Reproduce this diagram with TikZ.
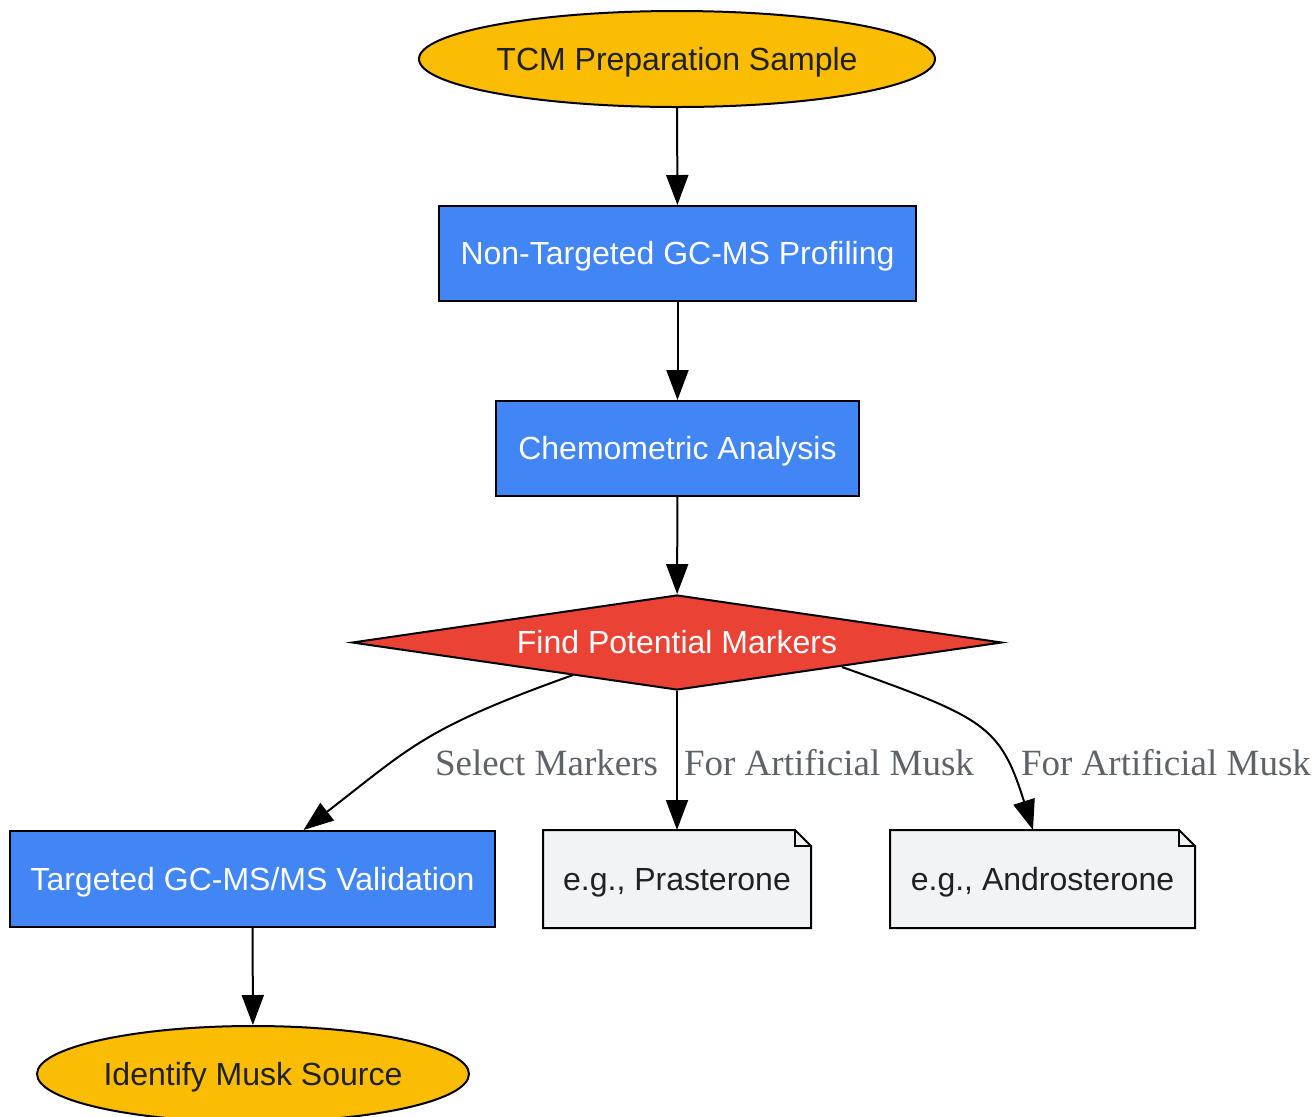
\documentclass[tikz,border=0pt]{standalone}
\usepackage{fontspec}
\setmainfont{Liberation Sans}
\newfontfamily\labelfont{Liberation Serif}
\usetikzlibrary{shapes.geometric,arrows.meta,backgrounds}
\definecolor{gyellow}{HTML}{FBBC04}
\definecolor{gblue}{HTML}{4285F4}
\definecolor{gred}{HTML}{EA4335}
\definecolor{ggray}{HTML}{F1F3F4}
\definecolor{glabel}{HTML}{5F6368}
\definecolor{gdark}{HTML}{202124}
\tikzset{
  base/.style={inner sep=0pt, line width=1pt, text height=12pt, text depth=1pt, font=\fontsize{16pt}{19pt}\selectfont},
  term/.style={base, ellipse, draw=black, fill=gyellow, text=gdark},
  procbox/.style={base, rectangle, draw=black, fill=gblue, text=white},
  decision/.style={base, diamond, aspect=6.84, draw=black, fill=gred, text=white},
  notebox/.style={base, rectangle, text=gdark},
  noteshape/.style={line width=1pt, draw=black, fill=ggray},
  edge/.style={line width=1pt, draw=black, -{Triangle[length=15pt,width=11pt]}},
  elabel/.style={text=glabel, inner sep=0pt, anchor=base, font=\labelfont\fontsize{18.5pt}{22pt}\selectfont}
}
\begin{document}
\begin{tikzpicture}[x=0.5pt, y=-0.5pt]
\useasboundingbox (0,0) rectangle (1314,1116);
\node[term, minimum width=258pt, minimum height=48pt] (tcm) at (677,59) {TCM Preparation Sample};
\node[procbox, minimum width=238.5pt, minimum height=47.5pt] (ntp) at (677.5,253.5) {Non-Targeted GC-MS Profiling};
\node[procbox, minimum width=181.5pt, minimum height=47.5pt] (chem) at (677.5,448.5) {Chemometric Analysis};
\node[decision, minimum width=325pt, minimum height=47.5pt] (find) at (677,642.5) {Find Potential Markers};
\node[procbox, minimum width=242.5pt, minimum height=48pt] (tgt) at (252.5,879) {Targeted GC-MS/MS Validation};
\node[notebox, minimum width=133pt, minimum height=48pt] (pras) at (677,879) {e.g., Prasterone};
\node[notebox, minimum width=151.5pt, minimum height=48pt] (andro) at (1042.5,879) {e.g., Androsterone};
\node[term, minimum width=216pt, minimum height=48pt] (idf) at (253,1074) {Identify Musk Source};

\begin{scope}[on background layer]
\foreach \n in {pras,andro}{
  \path[noteshape] (\n.south west) -- (\n.north west) -- ([xshift=-8pt]\n.north east)
     -- ([yshift=-8pt]\n.north east) -- (\n.south east) -- cycle;
  \draw[line width=1pt] ([xshift=-8pt]\n.north east) -- ([xshift=-8pt,yshift=-8pt]\n.north east)
     -- ([yshift=-8pt]\n.north east);
}
\end{scope}

\draw[edge] (tcm) -- (ntp);
\draw[edge] (ntp) -- (chem);
\draw[edge] (chem) -- (find);
\draw[edge] (find) -- (pras);
\draw[edge] (tgt) -- (idf);
\draw[edge] ([shift={(-104,32.5)}]find.center) .. controls (425,728) and (412,746) .. ([xshift=25.5pt]tgt.north);
\draw[edge] ([shift={(165,24.5)}]find.center) .. controls (985,718) and (1000,725) .. ([shift={(-9.5,0)}]andro.north);

\node[elabel] (l1) at (546.5,775) {Select Markers};
\node[elabel] (l2) at (829,775) {For Artificial Musk};
\node[elabel] (l3) at (1166,775) {For Artificial Musk};
\end{tikzpicture}
\end{document}
